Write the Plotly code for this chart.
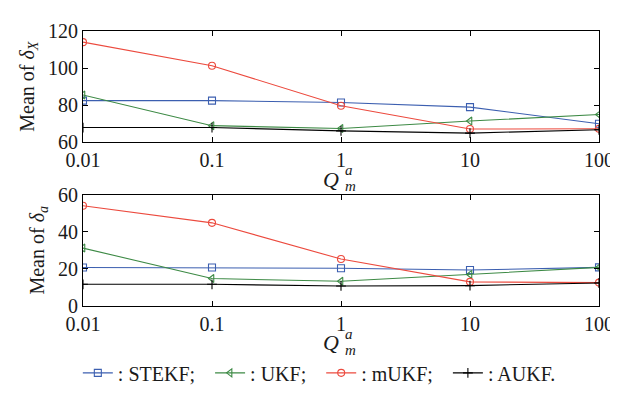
import plotly.graph_objects as go
from plotly.subplots import make_subplots

q_values = [0.01, 0.1, 1, 10, 100]
q_ticktext = ["0.01", "0.1", "1", "10", "100"]

# Top panel: Mean of delta_X
stekf_x = [82.5, 82.5, 81.5, 79.0, 70.0]
ukf_x = [85.5, 69.0, 67.5, 71.5, 75.0]
mukf_x = [114.0, 101.3, 79.7, 67.2, 67.3]
aukf_x = [68.0, 68.0, 66.2, 65.0, 66.8]

# Bottom panel: Mean of delta_a
stekf_a = [20.7, 20.7, 20.3, 19.4, 20.8]
ukf_a = [31.2, 14.8, 13.3, 17.0, 20.8]
mukf_a = [54.0, 44.8, 25.3, 13.0, 12.6]
aukf_a = [11.7, 11.7, 10.8, 11.0, 12.4]

names = [": STEKF;\u00a0\u00a0", ": UKF;\u00a0\u00a0", ": mUKF;\u00a0\u00a0", ": AUKF."]
colors = ["#3c5fb0", "#3d8a45", "#ec4a3e", "#000000"]
symbols = ["square-open", "triangle-left-open", "circle-open", "cross-thin-open"]

FONT = "Liberation Serif, Times New Roman, Tinos, serif"
TXT = "#1a1a1a"

TOP_DOM = [0.595, 1.0]
BOT_DOM = [0.0, 0.405]

fig = make_subplots(rows=2, cols=1, vertical_spacing=0.19)

top = [stekf_x, ukf_x, mukf_x, aukf_x]
bot = [stekf_a, ukf_a, mukf_a, aukf_a]
for i in range(4):
    for row, data, show in [(1, top[i], True), (2, bot[i], False)]:
        fig.add_trace(go.Scatter(x=q_values, y=data, mode="lines+markers", name=names[i],
                                 line=dict(color=colors[i], width=1.1),
                                 marker=dict(symbol=symbols[i], size=7, color=colors[i],
                                             line=dict(width=1.1, color=colors[i])),
                                 legendgroup=str(i), showlegend=show), row=row, col=1)

xaxis_common = dict(type="log", range=[-2, 2], tickvals=q_values, ticktext=q_ticktext,
                    showline=True, linecolor="black", linewidth=1, mirror="ticks",
                    ticks="inside", ticklen=5, tickcolor="black", showgrid=False,
                    zeroline=False, tickfont=dict(family=FONT, size=20, color=TXT))
fig.update_xaxes(**xaxis_common)
yaxis_common = dict(showline=True, linecolor="black", linewidth=1, mirror="ticks",
                    ticks="inside", ticklen=5, tickcolor="black", showgrid=False,
                    zeroline=False, dtick=20, tickfont=dict(family=FONT, size=20, color=TXT))
fig.update_yaxes(**yaxis_common)
fig.update_yaxes(range=[60, 120], row=1, col=1, domain=TOP_DOM,
                 title=dict(text="Mean of <i>δ</i><sub><i>X</i></sub>", standoff=8,
                            font=dict(family=FONT, size=20, color=TXT)))
fig.update_yaxes(range=[0, 60], row=2, col=1, domain=BOT_DOM,
                 title=dict(text="Mean of <i>δ</i><sub><i>a</i></sub>", standoff=8,
                            font=dict(family=FONT, size=20, color=TXT)))

# Stacked Q_m^a axis labels
annotations = []
for dom_bottom in [TOP_DOM[0], BOT_DOM[0]]:
    ybase = dom_bottom - 0.134
    annotations.append(dict(text="<i>Q</i>", x=0.5, y=ybase, xref="paper", yref="paper",
                            showarrow=False, xanchor="right", yanchor="middle",
                            font=dict(family=FONT, size=22, color=TXT)))
    annotations.append(dict(text="<i>a</i>", x=0.503, y=ybase + 0.032, xref="paper", yref="paper",
                            showarrow=False, xanchor="left", yanchor="middle",
                            font=dict(family=FONT, size=15, color=TXT)))
    annotations.append(dict(text="<i>m</i>", x=0.503, y=ybase - 0.026, xref="paper", yref="paper",
                            showarrow=False, xanchor="left", yanchor="middle",
                            font=dict(family=FONT, size=15, color=TXT)))

fig.update_layout(
    width=618, height=396,
    margin=dict(l=75, r=15, t=12, b=85),
    plot_bgcolor="white", paper_bgcolor="white",
    font=dict(family=FONT, size=20, color=TXT),
    showlegend=True,
    legend=dict(orientation="h", x=0.458, xanchor="center", y=-0.243, yanchor="middle",
                font=dict(family=FONT, size=20, color=TXT), itemwidth=30,
                tracegroupgap=0, bgcolor="rgba(0,0,0,0)"),
    annotations=annotations,
)

fig.write_html("out.html")
